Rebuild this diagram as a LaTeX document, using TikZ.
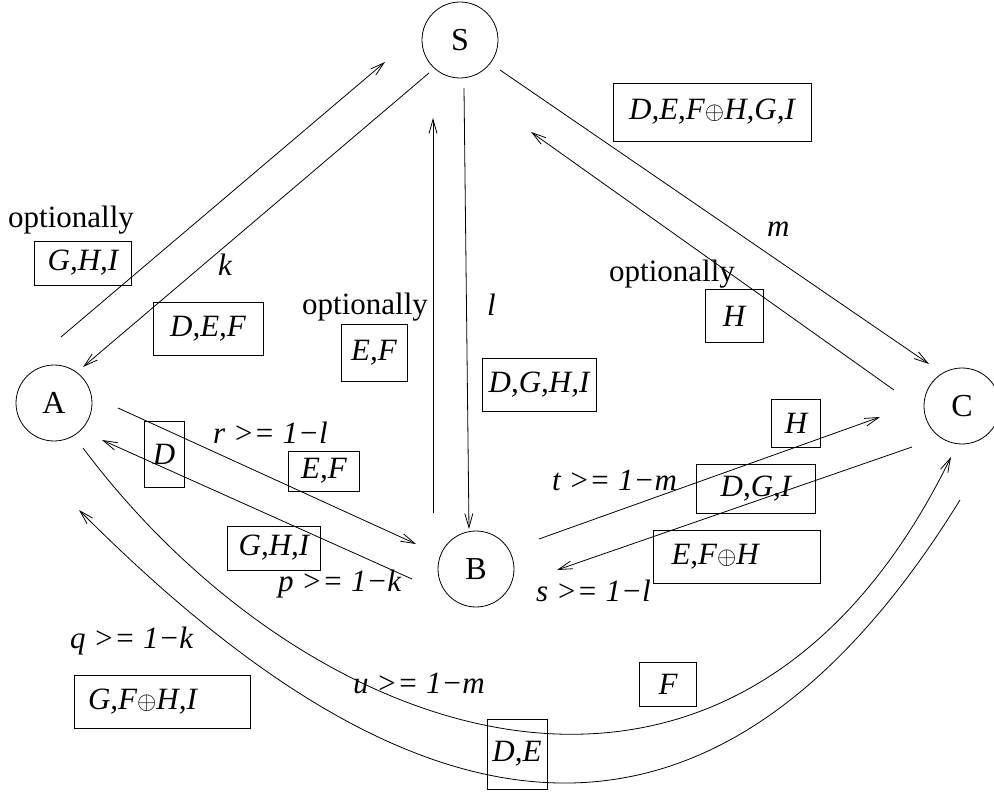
\documentclass[tikz,border=0pt]{standalone}
\usepackage{fontspec}
\setmainfont{Liberation Serif}
\usetikzlibrary{arrows.meta, calc}
\newcommand{\opl}{\ensuremath{\oplus}}
\tikzset{
  st/.style={circle,draw,line width=0.8pt,minimum size=76pt,inner sep=0pt,
    font=\fontsize{32}{38}\selectfont},
  lbl/.style 2 args={rectangle,draw,line width=0.8pt,inner sep=0pt,
    minimum width=#1,minimum height=#2,font=\fontsize{31}{37}\selectfont\itshape},
  txt/.style={anchor=base west,inner sep=0pt,font=\fontsize{31}{37}\selectfont},
  itxt/.style={txt,font=\fontsize{31}{37}\selectfont\itshape},
  ar/.style={-{Straight Barb[length=14pt,width=8pt]},line width=0.8pt}
}

\begin{document}
\begin{tikzpicture}[x=1pt,y=-1pt]
\useasboundingbox (0,0) rectangle (994,794);
\node[st] (S) at (460,40) {S};
\node[st] (A) at (54,403) {A};
\node[st] (B) at (476,569) {B};
\node[st] (C) at (962,406) {C};

\node[lbl={97pt}{44pt}] (as) at (83,263) {G,H,I};
\node[lbl={110pt}{53pt}] (sa) at (208,329) {D,E,F};
\node[lbl={66pt}{57pt}] (bs) at (374,353) {E,F};
\node[lbl={114pt}{53pt}] (sb) at (539,385) {D,G,H,I};
\node[lbl={198pt}{58pt}] (sc) at (712,112) {D,E,F\opl H,G,I};
\node[lbl={58pt}{53pt}] (cs) at (734,316) {H};
\node[lbl={40pt}{66pt}] (ab1) at (164,454) {D};
\node[lbl={71pt}{40pt}] (ab2) at (324,471) {E,F};
\node[lbl={93pt}{44pt}] (ba) at (274,548) {G,H,I};
\node[lbl={176pt}{53pt},text width=148pt,align=left] (ca) at (162,702) {G,F\opl H,I};
\node[lbl={60pt}{70pt}] (ac1) at (517,754) {D,E};
\node[lbl={57pt}{44pt}] (ac2) at (668,684) {F};
\node[lbl={49pt}{48pt}] (bc1) at (796,423) {H};
\node[lbl={119pt}{49pt}] (bc2) at (756,489) {D,G,I};
\node[lbl={167pt}{53pt},text width=131pt,align=left] (cb) at (737,557) {E,F\opl H};

\node[txt] (o1) at (8,228) {optionally};
\node[txt] (o2) at (302,315) {optionally};
\node[txt] (o3) at (609,282) {optionally};
\node[itxt] (k) at (218,276) {k};
\node[itxt] (l) at (487,316) {l};
\node[itxt] (m) at (767,237) {m};
\node[itxt] (r) at (213,443) {r >= 1−l};
\node[itxt] (p) at (278,591) {p >= 1−k};
\node[itxt] (q) at (70,648) {q >= 1−k};
\node[itxt] (u) at (353,693) {u >= 1−m};
\node[itxt] (t) at (552,490) {t >= 1−m};
\node[itxt] (s) at (536,601) {s >= 1−l};

\draw[ar] ($(A)+(7,-66)$) -- ($(S)+(-75,22)$);
\draw[ar] ($(S)+(-31,33)$) -- ($(A)+(29,-36)$);
\draw[ar] ($(B)+(-43,-56)$) -- ($(S)+(-27,78)$);
\draw[ar] ($(S)+(4,48)$) -- ($(B)+(-7,-40)$);
\draw[ar] ($(S)+(40,30)$) -- ($(C)+(-33,-42)$);
\draw[ar] ($(C)+(-68,-16)$) -- ($(S)+(71,92)$);
\draw[ar] ($(A)+(64,5)$) -- ($(B)+(-60,-25)$);
\draw[ar] ($(B)+(-64,10)$) -- ($(A)+(48,37)$);
\draw[ar] ($(B)+(63,-30)$) -- ($(C)+(-82,11)$);
\draw[ar] ($(C)+(-50,41)$) -- ($(B)+(81,1)$);
\draw[ar] ($(A)+(29,45)$) .. controls (307,747) and (734,900) .. ($(C)+(-11,51)$);
\draw[ar] ($(C)+(-2,94)$) .. controls (685,945) and (368,800) .. ($(A)+(25,107)$);
\end{tikzpicture}
\end{document}
